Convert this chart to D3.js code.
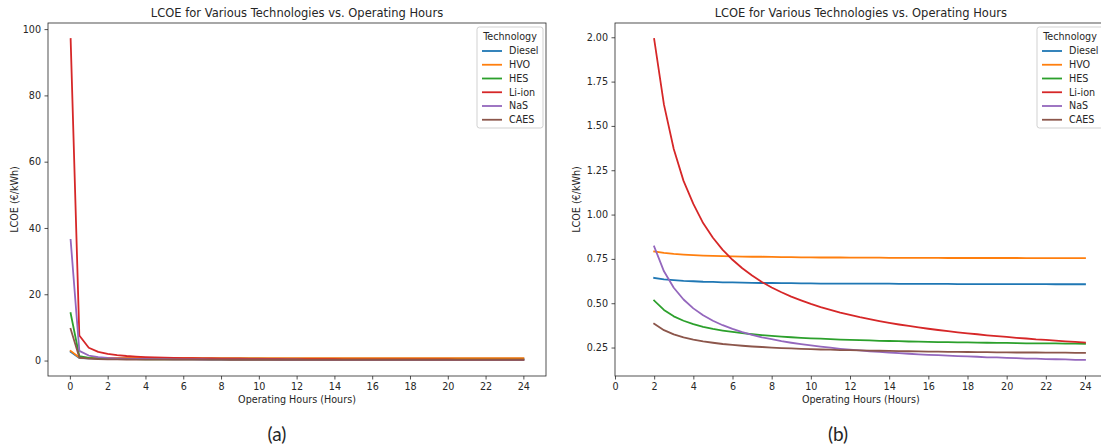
<!DOCTYPE html>
<html>
<head>
<meta charset="utf-8">
<script src="https://cdn.jsdelivr.net/npm/d3@7/dist/d3.min.js"></script>
<style>
  html, body { margin: 0; padding: 0; background: #fff; }
  svg { display: block; }
  text { font-family: "DejaVu Sans", sans-serif; fill: #262626; }
</style>
</head>
<body>
<svg id="chart" width="1101" height="448"></svg>
<script>
// ---- data ----
const technologies = ["Diesel", "HVO", "HES", "Li-ion", "NaS", "CAES"];
const hours = [0.04, 0.5, 1, 1.5, 2, 2.5, 3, 3.5, 4, 4.5, 5, 5.5, 6, 6.5, 7, 7.5, 8, 8.5, 9, 9.5, 10, 10.5, 11, 11.5, 12, 12.5, 13, 13.5, 14, 14.5, 15, 15.5, 16, 16.5, 17, 17.5, 18, 18.5, 19, 19.5, 20, 20.5, 21, 21.5, 22, 22.5, 23, 23.5, 24];
const diesel = [2.65, 0.761, 0.683, 0.656, 0.643, 0.635, 0.630, 0.626, 0.624, 0.621, 0.620, 0.618, 0.617, 0.616, 0.615, 0.614, 0.614, 0.613, 0.613, 0.612, 0.612, 0.611, 0.611, 0.611, 0.611, 0.610, 0.610, 0.610, 0.610, 0.609, 0.609, 0.609, 0.609, 0.609, 0.609, 0.608, 0.608, 0.608, 0.608, 0.608, 0.608, 0.608, 0.608, 0.608, 0.608, 0.607, 0.607, 0.607, 0.607];
const hvo = [2.91, 0.917, 0.834, 0.806, 0.792, 0.784, 0.778, 0.774, 0.771, 0.769, 0.767, 0.766, 0.764, 0.763, 0.762, 0.762, 0.761, 0.760, 0.760, 0.759, 0.759, 0.758, 0.758, 0.758, 0.757, 0.757, 0.757, 0.757, 0.756, 0.756, 0.756, 0.756, 0.756, 0.756, 0.755, 0.755, 0.755, 0.755, 0.755, 0.755, 0.755, 0.755, 0.754, 0.754, 0.754, 0.754, 0.754, 0.754, 0.754];
const hes = [14.3, 1.313, 0.781, 0.604, 0.515, 0.462, 0.426, 0.401, 0.382, 0.367, 0.355, 0.346, 0.338, 0.331, 0.325, 0.320, 0.316, 0.312, 0.308, 0.305, 0.302, 0.300, 0.297, 0.295, 0.293, 0.292, 0.290, 0.288, 0.287, 0.286, 0.284, 0.283, 0.282, 0.281, 0.280, 0.279, 0.279, 0.278, 0.277, 0.276, 0.276, 0.275, 0.274, 0.274, 0.273, 0.273, 0.272, 0.272, 0.271];
const liion = [97.0, 7.58, 3.85, 2.61, 1.99, 1.62, 1.37, 1.19, 1.06, 0.952, 0.869, 0.801, 0.745, 0.697, 0.656, 0.620, 0.589, 0.562, 0.537, 0.516, 0.496, 0.478, 0.462, 0.447, 0.434, 0.421, 0.410, 0.399, 0.389, 0.380, 0.372, 0.364, 0.356, 0.349, 0.342, 0.336, 0.330, 0.325, 0.319, 0.314, 0.310, 0.305, 0.301, 0.296, 0.293, 0.289, 0.285, 0.282, 0.278];
const nas = [36.4, 2.914, 1.518, 1.053, 0.820, 0.680, 0.587, 0.521, 0.471, 0.432, 0.401, 0.376, 0.355, 0.337, 0.321, 0.308, 0.297, 0.286, 0.277, 0.269, 0.262, 0.255, 0.249, 0.243, 0.238, 0.234, 0.229, 0.225, 0.222, 0.218, 0.215, 0.212, 0.209, 0.207, 0.204, 0.202, 0.200, 0.198, 0.195, 0.194, 0.192, 0.190, 0.188, 0.187, 0.185, 0.184, 0.183, 0.181, 0.180];
const caes = [9.55, 0.921, 0.563, 0.444, 0.384, 0.348, 0.324, 0.307, 0.295, 0.285, 0.277, 0.270, 0.265, 0.260, 0.256, 0.253, 0.250, 0.247, 0.245, 0.243, 0.241, 0.239, 0.238, 0.236, 0.235, 0.234, 0.233, 0.232, 0.231, 0.230, 0.229, 0.228, 0.227, 0.227, 0.226, 0.226, 0.225, 0.224, 0.224, 0.223, 0.223, 0.222, 0.222, 0.222, 0.221, 0.221, 0.221, 0.220, 0.220];
const seriesValues = [diesel, hvo, hes, liion, nas, caes];
const colors = ["#1f77b4", "#ff7f0e", "#2ca02c", "#d62728", "#9467bd", "#8c564b"];
const xTicks = [0, 2, 4, 6, 8, 10, 12, 14, 16, 18, 20, 22, 24];
const leftYTicks = [0, 20, 40, 60, 80, 100];
const rightYTicks = [0.25, 0.5, 0.75, 1.0, 1.25, 1.5, 1.75, 2.0];
const titleText = "LCOE for Various Technologies vs. Operating Hours";
const xLabelText = "Operating Hours (Hours)";
const yLabelText = "LCOE (€/kWh)";
const legendTitle = "Technology";

const svg = d3.select("#chart");
const FS = 9.6;

function drawPanel(cfg) {
  const rows = hours.map((h, i) => ({ h, i })).filter(d => d.h >= cfg.minHour);
  const series = technologies.map((name, k) => ({
    name, color: colors[k],
    pts: rows.map(r => ({ x: r.h, y: seriesValues[k][r.i] }))
  }));
  const allY = series.flatMap(s => s.pts.map(p => p.y));
  const allX = rows.map(r => r.h);
  const [ymin, ymax] = d3.extent(allY);
  const [xmin, xmax] = d3.extent(allX);
  const ym = (ymax - ymin) * 0.05, xm = (xmax - xmin) * 0.05;
  const xDomain = cfg.xStartZero ? [0, xmax + xm] : [xmin - xm, xmax + xm];
  const x = d3.scaleLinear().domain(xDomain).range([cfg.left, cfg.right]);
  const y = d3.scaleLinear().domain([ymin - ym, ymax + ym]).range([cfg.bottom, cfg.top]);

  const g = svg.append("g");
  const clipId = "clip" + cfg.id;
  svg.append("clipPath").attr("id", clipId).append("rect")
    .attr("x", cfg.left).attr("y", cfg.top)
    .attr("width", cfg.right - cfg.left).attr("height", cfg.bottom - cfg.top);

  const line = d3.line().x(d => x(d.x)).y(d => y(d.y));
  g.append("g").attr("clip-path", `url(#${clipId})`)
    .selectAll("path").data(series).join("path")
    .attr("d", d => line(d.pts)).attr("fill", "none")
    .attr("stroke", d => d.color).attr("stroke-width", 1.8)
    .attr("stroke-linejoin", "round").attr("stroke-linecap", "square");

  // axes
  const xAxis = d3.axisBottom(x).tickValues(xTicks).tickSize(3.5).tickPadding(3.5).tickFormat(d3.format("d"));
  const yAxis = d3.axisLeft(y).tickValues(cfg.yTicks).tickSize(3.5).tickPadding(3.5).tickFormat(cfg.yFormat);
  const gx = g.append("g").attr("transform", `translate(0,${cfg.bottom})`).call(xAxis);
  const gy = g.append("g").attr("transform", `translate(${cfg.left},0)`).call(yAxis);
  [gx, gy].forEach(a => {
    a.select(".domain").remove();
    a.selectAll(".tick line").attr("stroke", "#262626").attr("stroke-width", 0.8);
    a.selectAll(".tick text").attr("font-size", FS).attr("font-family", "DejaVu Sans").attr("fill", "#262626");
  });
  // frame
  g.append("rect").attr("x", cfg.left).attr("y", cfg.top)
    .attr("width", cfg.right - cfg.left).attr("height", cfg.bottom - cfg.top)
    .attr("fill", "none").attr("stroke", "#262626").attr("stroke-width", 0.8);

  // title & labels
  const cx = (cfg.left + cfg.right) / 2;
  g.append("text").attr("x", cx).attr("y", cfg.top - 6).attr("text-anchor", "middle")
    .attr("font-size", 11.5).text(titleText);
  g.append("text").attr("x", cx).attr("y", cfg.bottom + 27).attr("text-anchor", "middle")
    .attr("font-size", FS).text(xLabelText);
  g.append("text").attr("transform", `translate(${cfg.yLabelX},${(cfg.top + cfg.bottom) / 2}) rotate(-90)`)
    .attr("text-anchor", "middle").attr("font-size", FS).text(yLabelText);

  // legend
  const lg = g.append("g").attr("transform", `translate(${cfg.legendX},${cfg.top + 4})`);
  const lw = 66, lh = 101;
  lg.append("rect").attr("width", lw).attr("height", lh).attr("rx", 2.5)
    .attr("fill", "rgba(255,255,255,0.8)").attr("stroke", "#cccccc").attr("stroke-width", 0.9);
  lg.append("text").attr("x", lw / 2).attr("y", 12.5).attr("text-anchor", "middle")
    .attr("font-size", FS).text(legendTitle);
  const items = lg.selectAll("g.item").data(series).join("g").attr("class", "item")
    .attr("transform", (d, i) => `translate(0,${24 + i * 13.75})`);
  items.append("line").attr("x1", 5).attr("x2", 25).attr("y1", 0).attr("y2", 0)
    .attr("stroke", d => d.color).attr("stroke-width", 1.8);
  items.append("text").attr("x", 32).attr("y", 3.4).attr("font-size", FS).text(d => d.name);

  // panel caption
  svg.append("text").attr("x", cfg.captionX).attr("y", 441).attr("text-anchor", "middle")
    .attr("font-family", "Lato, 'Open Sans', sans-serif").attr("font-size", 19)
    .style("font-family", "Lato, 'Open Sans', sans-serif").text(cfg.caption);
}

drawPanel({ id: "a", minHour: 0, xStartZero: false, left: 48, right: 546, top: 23, bottom: 376,
  yTicks: leftYTicks, yFormat: d3.format("d"), yLabelX: 18, legendX: 477, captionX: 277, caption: "(a)" });
drawPanel({ id: "b", minHour: 2, xStartZero: true, left: 615, right: 615 + 25.1 * (470 / 24), top: 23, bottom: 376,
  yTicks: rightYTicks, yFormat: d3.format(".2f"), yLabelX: 580, legendX: 1037, captionX: 838, caption: "(b)" });
</script>
</body>
</html>
